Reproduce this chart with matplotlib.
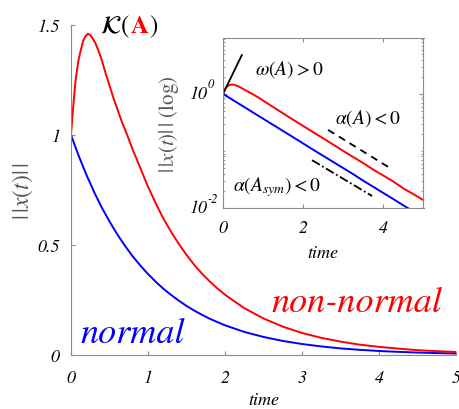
import matplotlib
matplotlib.use('Agg')
import matplotlib.pyplot as plt
import matplotlib.transforms as mtransforms
import numpy as np

plt.rcParams['font.family'] = ['STIXGeneral', 'DejaVu Serif']
plt.rcParams['mathtext.fontset'] = 'stix'

# normal system (blue)
t_normal = [0, 0.1, 0.2, 0.3, 0.4, 0.5, 0.6, 0.7, 0.8, 0.9, 1.0, 1.1, 1.2, 1.3, 1.4,
            1.5, 1.6, 1.7, 1.8, 1.9, 2.0, 2.25, 2.5, 2.75, 3.0, 3.25, 3.5, 3.75,
            4.0, 4.25, 4.5, 4.75, 5.0]
x_normal = [1.0, 0.905, 0.819, 0.741, 0.670, 0.607, 0.549, 0.497, 0.449, 0.407,
            0.368, 0.333, 0.301, 0.273, 0.247, 0.223, 0.202, 0.183, 0.165, 0.150,
            0.135, 0.105, 0.082, 0.064, 0.050, 0.039, 0.030, 0.0235, 0.0183,
            0.0143, 0.0111, 0.0087, 0.0068]

# non-normal system (red)
t_nonnormal = [0, 0.02, 0.04, 0.06, 0.08, 0.1, 0.13, 0.16, 0.19, 0.22, 0.25, 0.28,
               0.32, 0.36, 0.4, 0.45, 0.5, 0.55, 0.6, 0.66, 0.73, 0.8, 0.9, 1.0,
               1.1, 1.2, 1.3, 1.4, 1.5, 1.6, 1.7, 1.8, 1.9, 2.0, 2.25, 2.5, 2.75,
               3.0, 3.25, 3.5, 3.75, 4.0, 4.25, 4.5, 4.75, 5.0]
x_nonnormal = [1.0, 1.09, 1.175, 1.25, 1.30, 1.345, 1.39, 1.43, 1.45, 1.46, 1.455,
               1.44, 1.415, 1.38, 1.34, 1.28, 1.225, 1.17, 1.12, 1.06, 1.0, 0.935,
               0.85, 0.765, 0.69, 0.62, 0.56, 0.505, 0.455, 0.41, 0.37, 0.335,
               0.303, 0.274, 0.213, 0.166, 0.129, 0.10, 0.078, 0.061, 0.047, 0.037,
               0.029, 0.022, 0.0175, 0.0137]

# guide lines in the inset
omega_t = [0, 0.47]
omega_y = [1.0, 4.8]
alpha_t = [2.62, 4.12]
alpha_y = [0.234, 0.0525]
alpha_sym_t = [2.22, 3.72]
alpha_sym_y = [0.069, 0.0162]

# inset y tick labels: (value, exponent)
inset_yticks = [1e-2, 1e0]
inset_yexp = ['-2', '0']

RED = '#ff0000'
BLUE = '#0000ff'
GRAY = '#8c8c8c'

fig = plt.figure(figsize=(4.59, 4.10), dpi=100)

# main axes
ax = fig.add_axes([71/459, 54/410, 385/459, 330/410])
ax.plot(t_normal, x_normal, color=BLUE, lw=1.4)
ax.plot(t_nonnormal, x_nonnormal, color=RED, lw=1.4)
ax.set_xlim(0, 5)
ax.set_ylim(0, 1.5)
ax.set_xticks([0, 1, 2, 3, 4, 5])
ax.set_yticks([0, 0.5, 1, 1.5])
ax.set_yticklabels(['0', '0.5', '1', '1.5'])
for s in ['top', 'right']:
    ax.spines[s].set_visible(False)
for s in ['left', 'bottom']:
    ax.spines[s].set_color(GRAY)
ax.tick_params(direction='in', length=3, color=GRAY, labelsize=13, pad=8)
ax.tick_params(axis='x', pad=10)
for lab in ax.get_xticklabels() + ax.get_yticklabels():
    lab.set_fontstyle('italic')
ax.set_xlabel('time', fontsize=13, fontstyle='italic', labelpad=4)
ax.set_ylabel(r'$|\,|x(t)|\,|$', fontsize=17, color='#555555', labelpad=2)

ax.text(2.6, 0.2, 'non-normal', color=RED, fontsize=26, fontstyle='italic')
ax.text(0.12, 0.06, 'normal', color=BLUE, fontsize=26, fontstyle='italic')

# title K(A) with red bold A, pieces placed one after the other
renderer = fig.canvas.get_renderer()
ty = 1 - 33/410
t1 = fig.text(100/459, ty, r'$\mathcal{K}($', fontsize=18, color='black',
              ha='left', va='baseline')
x1 = fig.transFigure.inverted().transform(t1.get_window_extent(renderer))[1][0]
t2 = fig.text(x1, ty, r'$\mathbf{A}$', fontsize=18, color=RED, ha='left', va='baseline')
x2 = fig.transFigure.inverted().transform(t2.get_window_extent(renderer))[1][0]
fig.text(x2, ty, r'$)$', fontsize=18, color='black', ha='left', va='baseline')

# inset
ins = fig.add_axes([223/459, 201/410, 200.5/459, 170/410])
ins.plot(t_normal, x_normal, color=BLUE, lw=1.4)
ins.plot(t_nonnormal, x_nonnormal, color=RED, lw=1.4)
ins.plot(omega_t, omega_y, color='black', lw=1.3)
ins.plot(alpha_t, alpha_y, color='black', lw=1.3, ls=(0, (4, 3)))
ins.plot(alpha_sym_t, alpha_sym_y, color='black', lw=1.3, ls=(0, (5, 1.5, 1, 1.5)))
ins.set_yscale('log')
ins.set_xlim(0, 5)
ins.set_ylim(1e-2, 10**0.98)
ins.set_xticks([0, 2, 4])
ins.set_yticks(inset_yticks)
ins.set_yticklabels(['' for _ in inset_yticks])
ins.yaxis.set_minor_locator(matplotlib.ticker.LogLocator(base=10, subs=np.arange(1, 10)))
ins.yaxis.set_minor_formatter(matplotlib.ticker.NullFormatter())
for s in ins.spines.values():
    s.set_color(GRAY)
ins.tick_params(which='both', direction='in', top=True, right=True, color=GRAY,
                labelsize=13, pad=8)
ins.tick_params(which='major', length=3)
ins.tick_params(which='minor', length=1.5)
for lab in ins.get_xticklabels():
    lab.set_fontstyle('italic')
ins.set_xlabel('time', fontsize=13, fontstyle='italic', labelpad=6)
ins.set_ylabel(r'$|\,|x(t)|\,|$ (log)', fontsize=15, color='#555555', labelpad=22)

# italic 10^n labels on the inset y axis
blend = mtransforms.blended_transform_factory(ins.transAxes, ins.transData)
sup = mtransforms.offset_copy(blend, fig=fig, x=0, y=7, units='points')
for v, e in zip(inset_yticks, inset_yexp):
    ins.text(-0.078, v, '10', transform=blend, ha='right', va='center',
             fontsize=13, fontstyle='italic')
    ins.text(-0.078, v, e, transform=sup, ha='left', va='center',
             fontsize=9, fontstyle='italic')

ins.text(0.8, 2.75, r'$\omega(A) > 0$', fontsize=14, va='center')
ins.text(2.79, 0.38, r'$\alpha(A) < 0$', fontsize=14, va='center')
ins.text(0.25, 0.0245, r'$\alpha(A_{sym}) < 0$', fontsize=14, va='center')

fig.savefig('out.png', dpi=100)
